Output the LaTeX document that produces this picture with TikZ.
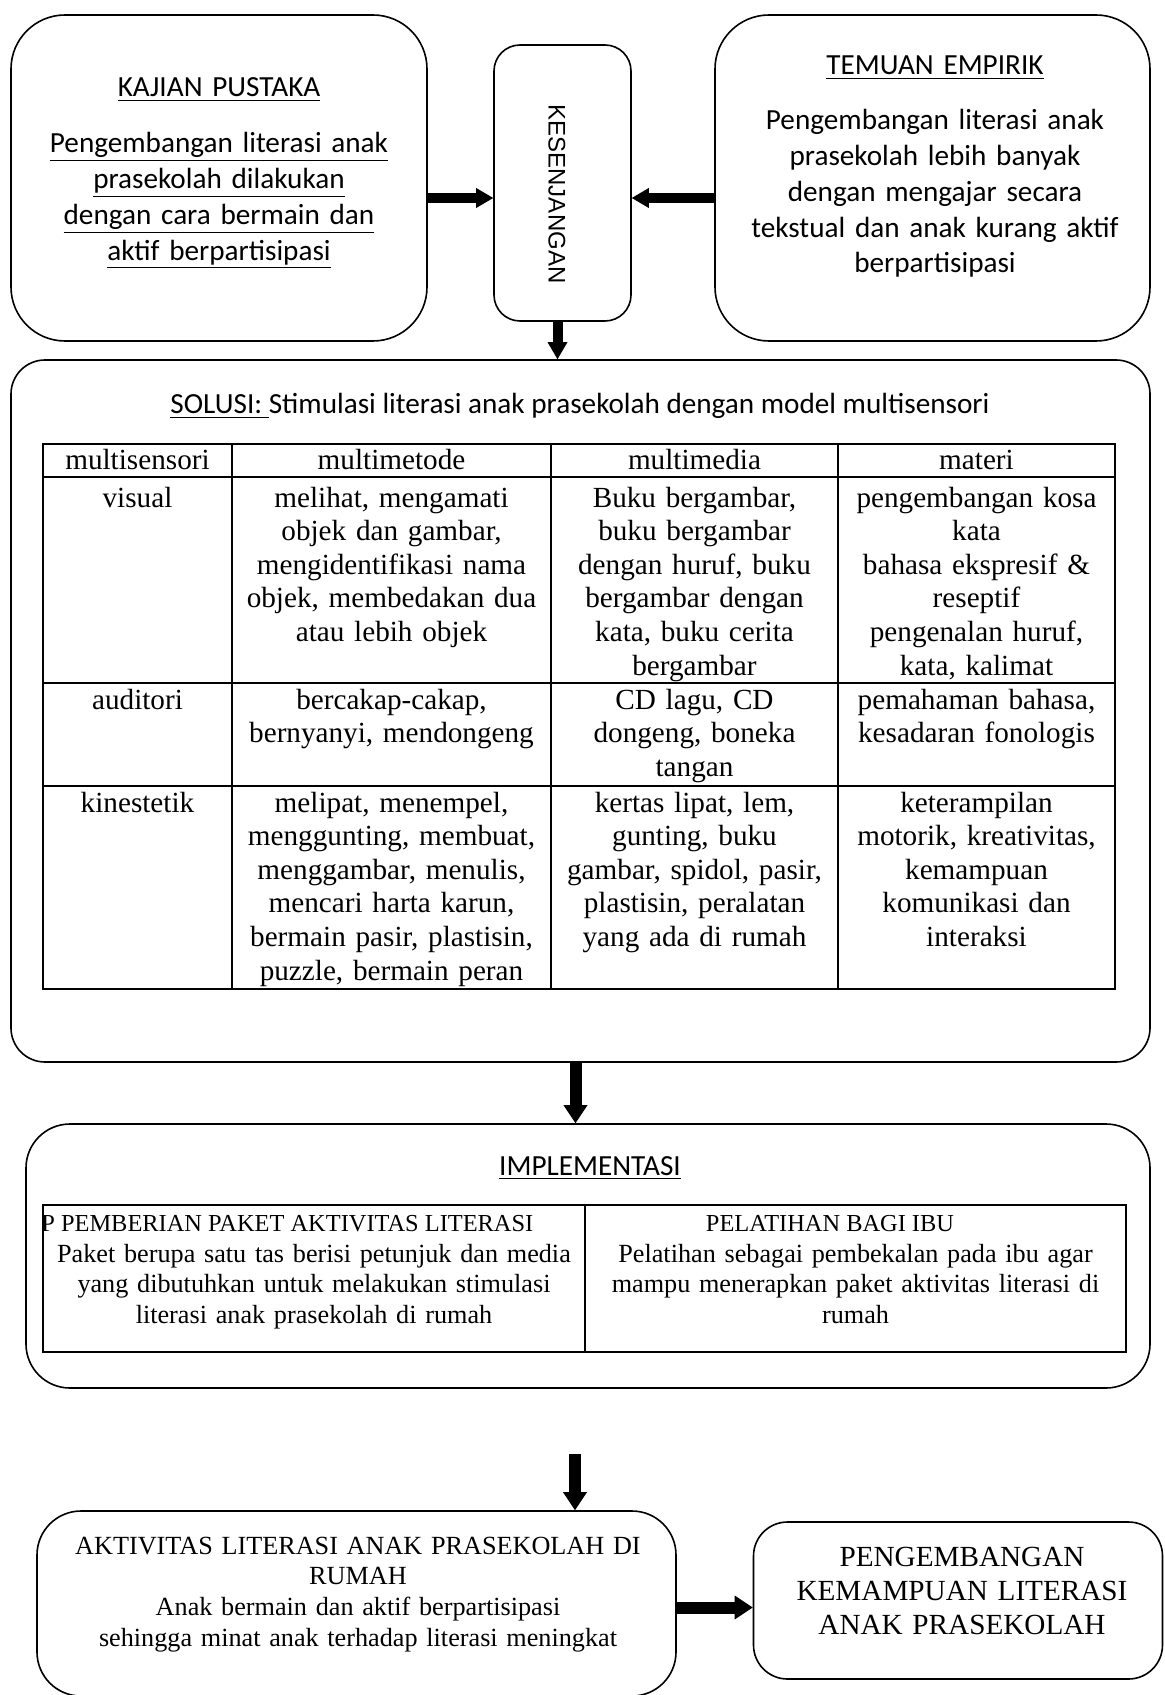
\documentclass[tikz,border=0pt]{standalone}
\usepackage{fontspec}
\setmainfont{Liberation Serif}
\newfontfamily\calibrifont{Carlito}
\newfontfamily\arialfont{Liberation Sans}
\usetikzlibrary{arrows.meta}

\begin{document}
\begin{tikzpicture}[
    x=0.5pt, y=-0.5pt,
    box/.style={rectangle, draw, line width=0.8pt, rounded corners=#1, inner sep=0pt},
    box/.default=20pt,
    calibri/.style={font=\calibrifont\fontsize{14.6}{17.9}\selectfont, align=center, anchor=base, inner sep=0pt},
    cell/.style={font=\fontsize{14.6}{16.8}\selectfont, align=center, anchor=base, inner sep=0pt},
    impltext/.style={font=\fontsize{13.1}{15.4}\selectfont, align=center, anchor=base, inner sep=0pt},
    impltitle/.style={font=\fontsize{12.2}{14}\selectfont, inner sep=0pt},
    tableline/.style={line width=1.1pt},
    colline/.style={line width=0.8pt},
    arrow/.style={-{Triangle[length=8.5pt, width=10pt, line width=0pt]}, line width=5pt},
    bigarrow/.style={-{Triangle[length=9pt, width=12pt, line width=0pt]}, line width=6pt}
]
\useasboundingbox (0,0) rectangle (1165,1695);

% Top row
\node[box=27pt, minimum width=208pt, minimum height=163pt] (kajian) at (219,178) {};
\node[box=13pt, minimum width=68.5pt, minimum height=138pt] (gap) at (562.5,183) {};
\node[box=27pt, minimum width=217.5pt, minimum height=163pt] (temuan) at (932.5,178) {};

\node[calibri, text width=200pt] (kajiantxt) at (219,97)
    {\underline{KAJIAN PUSTAKA}\\[10pt]
     \underline{Pengembangan literasi anak}\\
     \underline{prasekolah dilakukan}\\
     \underline{dengan cara bermain dan}\\
     \underline{aktif berpartisipasi}};

\node[font=\arialfont\fontsize{12}{14}\selectfont, rotate=-90, inner sep=0pt] (gaptxt) at (557,194) {KESENJANGAN};

\node[calibri, text width=210pt] (temuantxt) at (935,75)
    {\underline{TEMUAN EMPIRIK}\\[9.5pt]
     Pengembangan literasi anak\\
     prasekolah lebih banyak\\
     dengan mengajar secara\\
     tekstual dan anak kurang aktif\\
     berpartisipasi};

% Solusi
\node[box=17pt, minimum width=569.5pt, minimum height=351pt] (solusi) at (580.5,711) {};
\node[calibri] (solusititle) at (580,414)
    {\underline{SOLUSI:\ }Stimulasi literasi anak prasekolah dengan model multisensori};

\draw[tableline] (43,444) rectangle (1115,989);
\draw[tableline] (43,477) -- (1115,477);
\draw[tableline] (43,683) -- (1115,683);
\draw[tableline] (43,786) -- (1115,786);
\draw[colline] (232,444) -- (232,989);
\draw[colline] (551,444) -- (551,989);
\draw[colline] (838,444) -- (838,989);

\node[cell, text width=92pt] (hsensori) at (137.5,469) {multisensori};
\node[cell, text width=157pt] (hmetode) at (391.5,469) {multimetode};
\node[cell, text width=141pt] (hmedia) at (694.5,469) {multimedia};
\node[cell, text width=136pt] (hmateri) at (976.5,469) {materi};

\node[cell, text width=92pt] (visual) at (137.5,507) {visual};
\node[cell, text width=157pt] (visualmetode) at (391.5,507)
    {melihat, mengamati\\ objek dan gambar,\\ mengidentifikasi nama\\ objek, membedakan dua\\ atau lebih objek};
\node[cell, text width=141pt] (visualmedia) at (694.5,507)
    {Buku bergambar,\\ buku bergambar\\ dengan huruf, buku\\ bergambar dengan\\ kata, buku cerita\\ bergambar};
\node[cell, text width=136pt] (visualmateri) at (976.5,507)
    {pengembangan kosa\\ kata\\ bahasa ekspresif \&\\ reseptif\\ pengenalan huruf,\\ kata, kalimat};

\node[cell, text width=92pt] (auditori) at (137.5,709) {auditori};
\node[cell, text width=157pt] (auditorimetode) at (391.5,709)
    {bercakap-cakap,\\ bernyanyi, mendongeng};
\node[cell, text width=141pt] (auditorimedia) at (694.5,709)
    {CD lagu, CD\\ dongeng, boneka\\ tangan};
\node[cell, text width=136pt] (auditorimateri) at (976.5,709)
    {pemahaman bahasa,\\ kesadaran fonologis};

\node[cell, text width=92pt] (kinestetik) at (137.5,812) {kinestetik};
\node[cell, text width=157pt] (kinestetikmetode) at (391.5,812)
    {melipat, menempel,\\ menggunting, membuat,\\ menggambar, menulis,\\ mencari harta karun,\\ bermain pasir, plastisin,\\ puzzle, bermain peran};
\node[cell, text width=141pt] (kinestetikmedia) at (694.5,812)
    {kertas lipat, lem,\\ gunting, buku\\ gambar, spidol, pasir,\\ plastisin, peralatan\\ yang ada di rumah};
\node[cell, text width=136pt] (kinestetikmateri) at (976.5,812)
    {keterampilan\\ motorik, kreativitas,\\ kemampuan\\ komunikasi dan\\ interaksi};

% Implementasi
\node[box=22pt, minimum width=562pt, minimum height=132pt] (impl) at (588,1256) {};
\node[calibri] (impltitle) at (590,1175) {\underline{IMPLEMENTASI}};

\draw[tableline] (43,1205) rectangle (1126,1352);
\draw[colline] (585,1205) -- (585,1352);

\node[impltitle, anchor=base west] (paket) at (41,1231) {P PEMBERIAN PAKET AKTIVITAS LITERASI};
\node[impltext, text width=268pt] (pakettxt) at (314,1262)
    {Paket berupa satu tas berisi petunjuk dan media\\
     yang dibutuhkan untuk melakukan stimulasi\\
     literasi anak prasekolah di rumah};
\node[impltitle, anchor=base] (pelatihan) at (830,1231) {PELATIHAN BAGI IBU};
\node[impltext, text width=268pt] (pelatihantxt) at (855.5,1262)
    {Pelatihan sebagai pembekalan pada ibu agar\\
     mampu menerapkan paket aktivitas literasi di\\
     rumah};

% Bottom row
\node[box=22pt, minimum width=319.5pt, minimum height=92.5pt] (aktivitas) at (356.5,1603.5) {};
\node[impltext, text width=312pt] (aktivitastxt) at (358,1554)
    {AKTIVITAS LITERASI ANAK PRASEKOLAH DI\\
     RUMAH\\
     Anak bermain dan aktif berpartisipasi\\
     sehingga minat anak terhadap literasi meningkat};

\node[box=17pt, minimum width=204.5pt, minimum height=78.5pt] (hasil) at (958,1600.5) {};
\node[cell, text width=200pt, font=\fontsize{14.6}{17}\selectfont] (hasiltxt) at (962,1566)
    {PENGEMBANGAN\\ KEMAMPUAN LITERASI\\ ANAK PRASEKOLAH};

\coordinate (gapstart) at (575,1454);

% Arrows
\draw[arrow] ([yshift=-10pt]kajian.east) -- ([yshift=-10pt]kajian.east -| gap.west);
\draw[arrow] ([yshift=-10pt]temuan.west) -- ([yshift=-10pt]temuan.west -| gap.east);
\draw[arrow] ([xshift=-2.5pt]gap.south) -- ([xshift=-2.5pt]gap.south |- solusi.north);
\draw[bigarrow] ([xshift=-2.5pt]solusi.south) -- ([xshift=-2.5pt]solusi.south |- impl.north);
\draw[bigarrow] (gapstart) -- (gapstart |- aktivitas.north);
\draw[bigarrow] ([yshift=-2pt]aktivitas.east) -- ([yshift=-2pt]aktivitas.east -| hasil.west);

\end{tikzpicture}
\end{document}
